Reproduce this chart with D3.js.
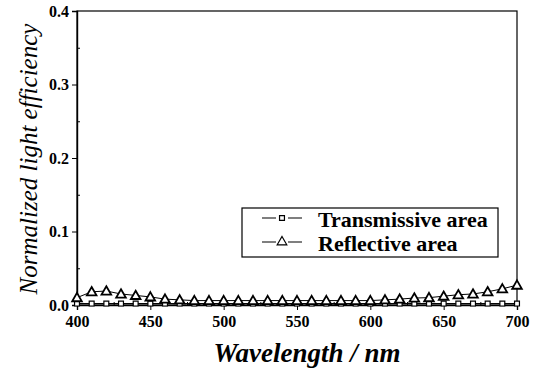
<!DOCTYPE html>
<html><head><meta charset="utf-8">
<script src="https://cdn.jsdelivr.net/npm/d3@7"></script>
</head>
<body style="margin:0">
<svg id="chart" width="540" height="372" style="font-family:'Liberation Serif',serif"></svg>
<script>
const wavelengths = [400,410,420,430,440,450,460,470,480,490,500,510,520,530,540,550,560,570,580,590,600,610,620,630,640,650,660,670,680,690,700];
const reflective  = [0.010,0.018,0.019,0.015,0.013,0.011,0.008,0.007,0.006,0.006,0.006,0.006,0.006,0.006,0.006,0.006,0.006,0.006,0.006,0.006,0.006,0.007,0.008,0.0095,0.010,0.012,0.014,0.015,0.018,0.022,0.027];
const transmissive= [0.002,0.002,0.002,0.002,0.002,0.002,0.002,0.002,0.002,0.002,0.002,0.002,0.002,0.002,0.002,0.002,0.002,0.002,0.002,0.002,0.002,0.002,0.002,0.002,0.002,0.002,0.002,0.002,0.002,0.002,0.002];
const xTicks = [400,450,500,550,600,650,700];
const yTicks = [0.0,0.1,0.2,0.3,0.4];
const seriesNames = ["Transmissive area","Reflective area"];

const svg = d3.select("#chart");
function serif(sel){ return sel.attr("font-family","Liberation Serif").style("font-family",'"Liberation Serif"'); }
const L=77,R=517,T=11,B=305;
const x = d3.scaleLinear().domain([400,700]).range([L,R]);
const y = d3.scaleLinear().domain([0,0.4]).range([B,T]);

svg.append("rect").attr("x",L).attr("y",T).attr("width",R-L).attr("height",B-T)
  .attr("fill","none").attr("stroke","#000").attr("stroke-width",1.2);

const xa = svg.append("g").attr("transform",`translate(0,${B})`)
  .call(d3.axisBottom(x).tickValues(xTicks).tickSize(5).tickFormat(d3.format("d")));
serif(xa);
xa.select(".domain").attr("stroke-width",1.4);
serif(xa.selectAll("text")).attr("font-size",16).attr("font-weight","bold").attr("dy","0.9em");
svg.append("g").attr("transform",`translate(0,${B})`)
  .call(d3.axisTop(x).tickValues([425,475,525,575,625,675]).tickSize(3).tickFormat(""))
  .select(".domain").remove();

const ya = svg.append("g").attr("transform",`translate(${L},0)`)
  .call(d3.axisLeft(y).tickValues(yTicks).tickSize(5).tickFormat(d3.format(".1f")));
serif(ya);
ya.select(".domain").attr("stroke-width",1.4);
serif(ya.selectAll("text")).attr("font-size",16).attr("font-weight","bold");
svg.append("g").attr("transform",`translate(${L},0)`)
  .call(d3.axisRight(y).tickValues([0.05,0.15,0.25,0.35]).tickSize(3).tickFormat(""))
  .select(".domain").remove();

serif(svg.append("text")).attr("x",(L+R)/2+10).attr("y",362).attr("text-anchor","middle")
  .attr("font-size",27).attr("font-style","italic").attr("font-weight","bold")
  .text("Wavelength / nm");
serif(svg.append("text")).attr("transform",`translate(37,${(T+B)/2+1}) rotate(-90)`)
  .attr("text-anchor","middle").attr("font-size",25).attr("font-style","italic")
  .text("Normalized light efficiency");

const tri = d3.symbol().type(d3.symbolTriangle).size(40);
const sq = d3.symbol().type(d3.symbolSquare).size(24);

function drawSeries(vals, sym, dy, sw){
  const pts = wavelengths.map((w,i)=>[x(w),y(vals[i])]);
  svg.append("path").attr("d",d3.line()(pts)).attr("fill","none").attr("stroke","#000").attr("stroke-width",1);
  svg.append("g").selectAll("path").data(pts).join("path")
    .attr("transform",d=>`translate(${d[0]},${d[1]+dy})`).attr("d",sym)
    .attr("fill","#fff").attr("stroke","#000").attr("stroke-width",sw);
}
drawSeries(transmissive, sq, 0, 1.2);
drawSeries(reflective, tri, 0.8, 1.8);

const lg = svg.append("g");
lg.append("rect").attr("x",242).attr("y",208).attr("width",256).attr("height",49)
  .attr("fill","#fff").attr("stroke","#000").attr("stroke-width",1.2);
const syms=[sq,tri];
seriesNames.forEach((n,i)=>{
  const yy = 218 + i*24;
  lg.append("line").attr("x1",262).attr("x2",302).attr("y1",yy).attr("y2",yy).attr("stroke","#000").attr("stroke-width",1.2);
  lg.append("rect").attr("x",276).attr("y",yy-4).attr("width",12).attr("height",8).attr("fill","#fff");
  lg.append("path").attr("transform",`translate(282,${yy})`).attr("d",syms[i]).attr("fill","#fff").attr("stroke","#000").attr("stroke-width",1.2);
  serif(lg.append("text")).attr("x",318).attr("y",yy+9).attr("font-size",22).attr("font-weight","bold").text(n);
});
</script>
</body></html>
